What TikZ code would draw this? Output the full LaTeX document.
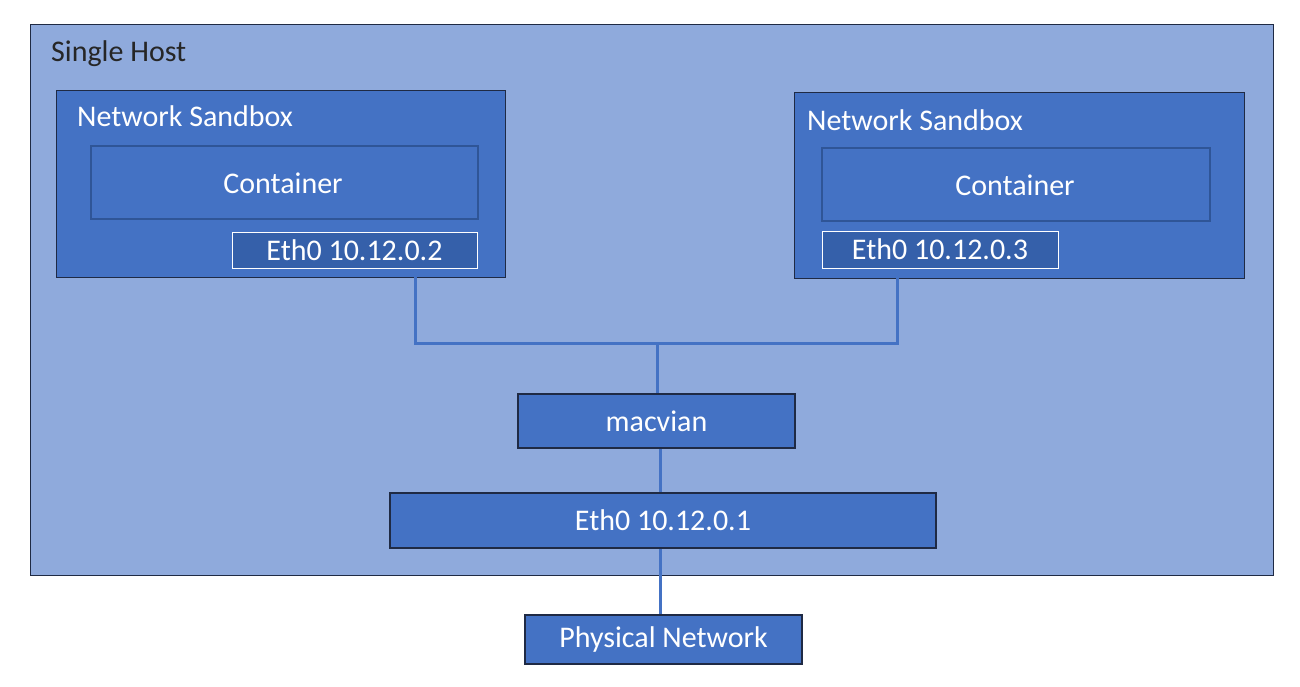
\documentclass[tikz,border=0pt]{standalone}
\usepackage{fontspec}
\setmainfont{Carlito}
\definecolor{hostfill}{HTML}{8FAADC}
\definecolor{boxfill}{HTML}{4472C4}
\definecolor{ethfill}{HTML}{3560AA}
\definecolor{contline}{HTML}{2F5597}
\definecolor{darkline}{HTML}{1F2A44}
\definecolor{linkcol}{HTML}{4472C4}
\begin{document}
\begin{tikzpicture}[x=1pt,y=-1pt,
  txt/.style={font=\fontsize{30}{34}\selectfont},
  hostbox/.style={draw=darkline,line width=1.2pt,fill=hostfill},
  sandbox/.style={draw=darkline,line width=1.2pt,fill=boxfill},
  contbox/.style={draw=contline,line width=2pt,fill=boxfill},
  ethbox/.style={draw=white,line width=1.2pt,fill=ethfill},
  bluebox/.style={draw=darkline,line width=1.5pt,fill=boxfill,text=white,txt},
  wlbl/.style={text=white,txt,inner sep=0pt},
  lbl/.style={anchor=base west,inner sep=0pt,txt},
  link/.style={draw=linkcol,line width=3pt}]
\useasboundingbox (0,0) rectangle (1300,687);
\fill[white] (0,0) rectangle (1300,687);
% host
\node[hostbox,minimum width=1243pt,minimum height=551pt,anchor=north west,inner sep=0pt] (host) at (30,24) {};
\node[lbl,text=black!85] (hostlbl) at (51,62) {Single Host};
% sandboxes
\node[sandbox,minimum width=449pt,minimum height=187pt,anchor=north west,inner sep=0pt] (sb1) at (56,90) {};
\node[lbl,text=white] (sb1lbl) at (77,127) {Network Sandbox};
\node[contbox,minimum width=387pt,minimum height=73pt,anchor=north west,inner sep=0pt] (c1) at (90,145) {};
\node[wlbl] (c1lbl) at (283,183) {Container};
\node[ethbox,minimum width=245pt,minimum height=36pt,anchor=north west,inner sep=0pt] (e1) at (232,232) {};
\node[wlbl] (e1lbl) at (354.5,250) {Eth0 10.12.0.2};

\node[sandbox,minimum width=450pt,minimum height=186pt,anchor=north west,inner sep=0pt] (sb2) at (794,92) {};
\node[lbl,text=white] (sb2lbl) at (807,131) {Network Sandbox};
\node[contbox,minimum width=388pt,minimum height=73pt,anchor=north west,inner sep=0pt] (c2) at (821,147) {};
\node[wlbl] (c2lbl) at (1015,185) {Container};
\node[ethbox,minimum width=236pt,minimum height=37pt,anchor=north west,inner sep=0pt] (e2) at (822,231) {};
\node[wlbl] (e2lbl) at (940,249.5) {Eth0 10.12.0.3};

% junction coordinates
\coordinate (j1) at (415,343);
\coordinate (j2) at (897,343);
\coordinate (jm) at (657,343);
\coordinate (jv) at (660,0);

% links
\draw[link] (e1.south -| j1) -- (j1) -- (j2) -- (e2.south -| j2);

\node[bluebox,minimum width=277pt,minimum height=54pt,inner sep=0pt] (mac) at (656.5,421) {macvian};
\node[bluebox,minimum width=546pt,minimum height=55pt,inner sep=0pt] (heth) at (663,520.5) {Eth0 10.12.0.1};
\node[bluebox,minimum width=277pt,minimum height=49pt,inner sep=0pt] (phys) at (663.5,639.5) {Physical Network};
\draw[link] (jm) -- (mac.north -| jm);
\draw[link] (mac.south -| jv) -- (heth.north -| jv);
\draw[link] (heth.south -| jv) -- (phys.north -| jv);
\end{tikzpicture}
\end{document}
